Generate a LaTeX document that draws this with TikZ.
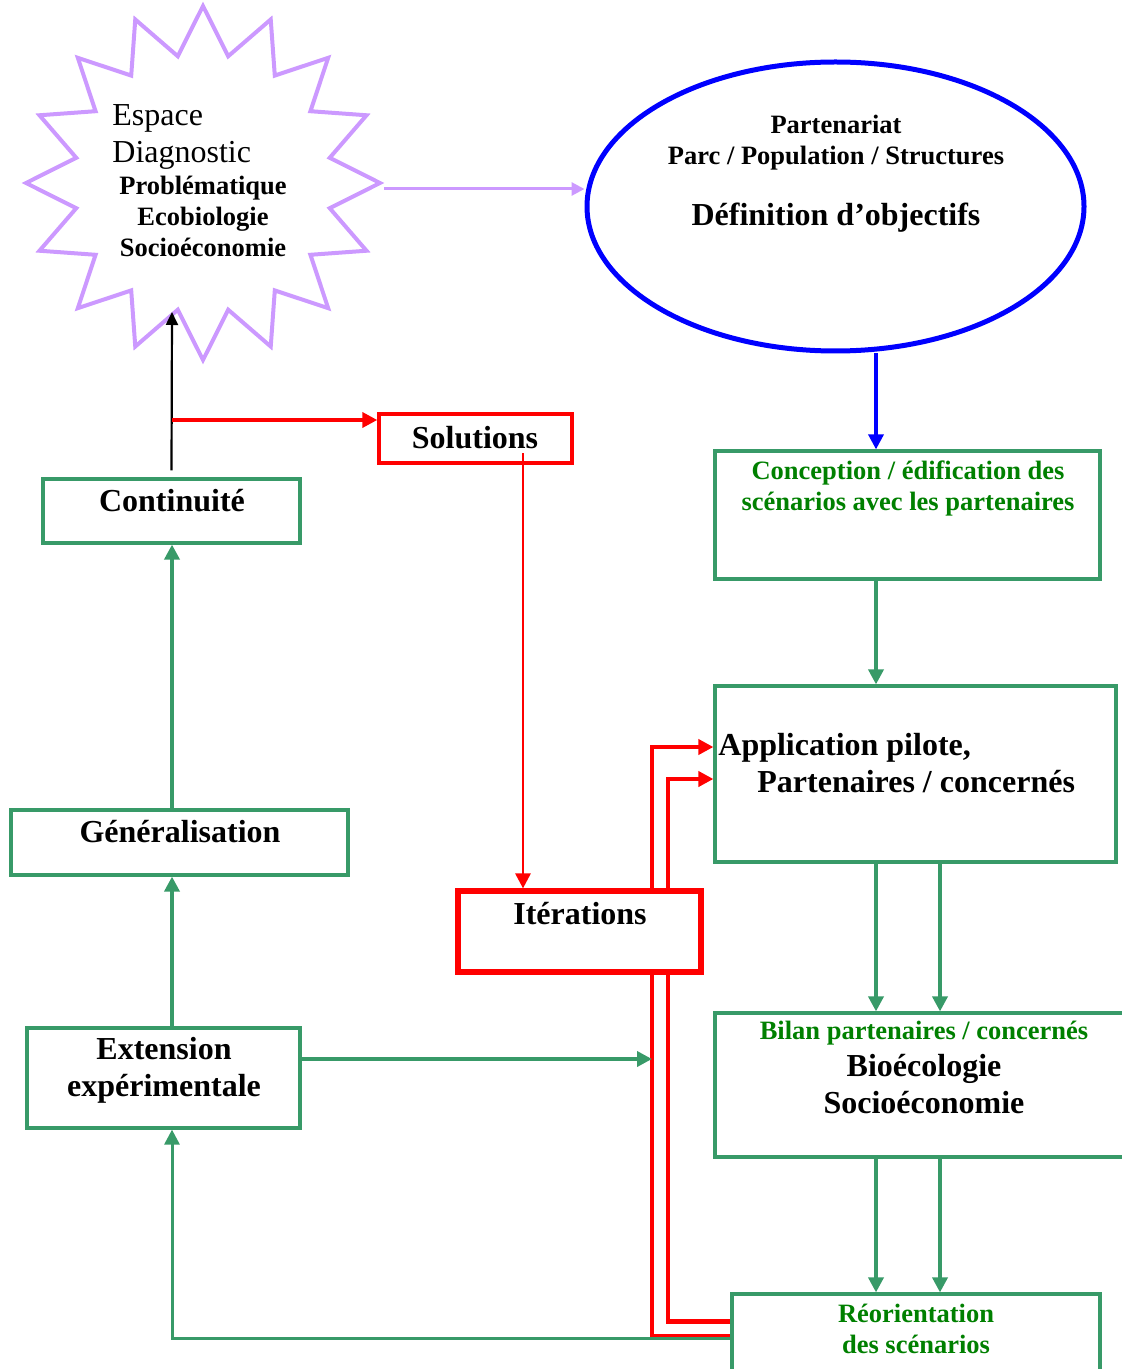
\documentclass[tikz,border=0pt]{standalone}
\usepackage{fontspec}
\setmainfont{Liberation Serif}
\usetikzlibrary{shapes.geometric,arrows.meta,positioning,calc}
\definecolor{lavande}{RGB}{204,153,255}
\definecolor{vertbox}{RGB}{56,154,104}
\definecolor{verttxt}{RGB}{0,128,0}

\begin{document}
\begin{tikzpicture}[
  x=0.5pt, y=-0.5pt,
  >={Triangle[length=7.5pt,width=7.5pt]},
  boite/.style={
    rectangle, draw=vertbox, line width=1.6pt, fill=white, inner sep=0pt
  },
  boiterouge/.style={
    rectangle, draw=red, line width=1.7pt, fill=white, inner sep=0pt
  },
  txt/.style={font=\fontsize{13.25}{15.5}\selectfont\bfseries, align=center, inner sep=0pt},
  grandtxt/.style={font=\fontsize{16}{18.5}\selectfont\bfseries, align=center, inner sep=0pt},
  fleche/.style={->, draw=vertbox, line width=1.8pt},
  rougeloop/.style={->, draw=red, line width=2.3pt}
]
\useasboundingbox (0,0) rectangle (1122,1369);
\clip (0,0) rectangle (1122,1369);

% Noeuds
\node[star, star points=16, star point ratio=1.37, minimum size=177pt,
      draw=lavande, line width=2pt, inner sep=0pt] (diag) at (203,183) {};
\node[anchor=west, inner sep=0pt, align=left, font=\fontsize{16}{18.5}\selectfont] (diagtitre) at (112,137) {Espace\\Diagnostic};
\node[txt] (diagtxt) at (203,216) {Problématique\\Ecobiologie\\Socioéconomie};

\node[ellipse, draw=blue, line width=2.5pt, minimum width=248.5pt, minimum height=144.5pt,
      inner sep=0pt] (defobj) at (835.5,206.5) {};
\node[txt] (partxt) at (836,143) {Partenariat\\Parc / Population / Structures};
\node[grandtxt] (deftxt) at (836,218) {Définition d’objectifs};

\node[boiterouge] (sol) at (475.5,438.5) [minimum width=96.5pt, minimum height=24.5pt] {};
\node[grandtxt] (soltxt) at (475,438) {Solutions};

\node[boite] (cont) at (171.5,511) [minimum width=128.5pt, minimum height=32pt] {};
\node[grandtxt] (conttxt) at (172,501) {Continuité};

\node[boite] (gen) at (179.5,842.5) [minimum width=168.5pt, minimum height=32.5pt] {};
\node[grandtxt] (gentxt) at (180,832) {Généralisation};

\node[boite] (ext) at (163.5,1078) [minimum width=136.5pt, minimum height=50pt] {};
\node[grandtxt] (exttxt) at (164,1070) {Extension\\expérimentale};

\node[boite] (concep) at (907.5,515) [minimum width=192.5pt, minimum height=64pt] {};
\node[txt, text=verttxt] (conceptxt) at (908,488) {Conception / édification des\\scénarios avec les partenaires};

\node[boite] (appl) at (915.5,774) [minimum width=200.5pt, minimum height=88pt] {};
\node[grandtxt, anchor=west, align=left] (appltxt) at (718,763) {Application pilote,\\\hspace*{19.5pt}Partenaires / concernés};

\node[boite] (bilan) at (927.5,1085) [minimum width=212.5pt, minimum height=72pt] {};
\node[txt, text=verttxt] (bilantete) at (924,1033) {Bilan partenaires / concernés};
\node[grandtxt] (bilantxt) at (924,1084) {Bioécologie\\Socioéconomie};

\node[boite] (reor) at (916,1347) [minimum width=184pt, minimum height=53pt] {};
\node[txt, text=verttxt] (reortxt) at (916,1329) {Réorientation\\des scénarios};

\coordinate (colL) at (172,0);
\coordinate (colA) at (876,0);
\coordinate (colB) at (940,0);
\coordinate (colS) at (523,453);
\coordinate (coudeA) at (668,779);
\coordinate (coudeB) at (652,747);
\coordinate (lavA) at ([yshift=-3pt]diag.east);
\coordinate (diagtip) at (172,312);
\coordinate (noir) at ([yshift=3.5pt]cont.north);
\coordinate (solin) at ([yshift=9.25pt]sol.west);
\coordinate (extout) at ([yshift=9.5pt]ext.east);

% Liaisons
\draw[->, draw=lavande, line width=1.5pt, >={Triangle[length=6.5pt,width=6.5pt]}] (lavA) -- (lavA -| defobj.west);
\draw[->, draw=blue, line width=1.7pt] (defobj.south -| colA) -- (concep.north -| colA);
\draw[fleche] (concep.south -| colA) -- (appl.north -| colA);
\draw[fleche] (appl.south -| colA) -- (bilan.north -| colA);
\draw[fleche] (appl.south -| colB) -- (bilan.north -| colB);
\draw[fleche] (bilan.south -| colA) -- (reor.north -| colA);
\draw[fleche] (bilan.south -| colB) -- (reor.north -| colB);

\draw[rougeloop] ([yshift=-14.5pt]reor.north west) -| (coudeA) -- (appl.west |- coudeA);
\draw[rougeloop] ([yshift=-22pt]reor.north west) -| (coudeB) -- (appl.west |- coudeB);
\draw[fleche, line width=1.5pt] ([yshift=-23pt]reor.north west) -| (ext.south -| colL);

\node[boiterouge, line width=2.6pt] (iter) at (579.5,931.5) [minimum width=121.5pt, minimum height=40.5pt] {};
\node[grandtxt] (itertxt) at (580,914) {Itérations};

\draw[fleche] (extout) -- (extout -| coudeB);
\draw[fleche] (ext.north -| colL) -- (gen.south -| colL);
\draw[fleche] (gen.north -| colL) -- (cont.south -| colL);
\draw[->, line width=1.1pt, >={Triangle[length=6.5pt,width=6pt]}] (noir) -- (diagtip);
\draw[->, draw=red, line width=1.8pt] (solin -| colL) -- (solin);
\draw[->, draw=red, line width=1.4pt] (colS) -- (iter.north -| colS);

\end{tikzpicture}
\end{document}
